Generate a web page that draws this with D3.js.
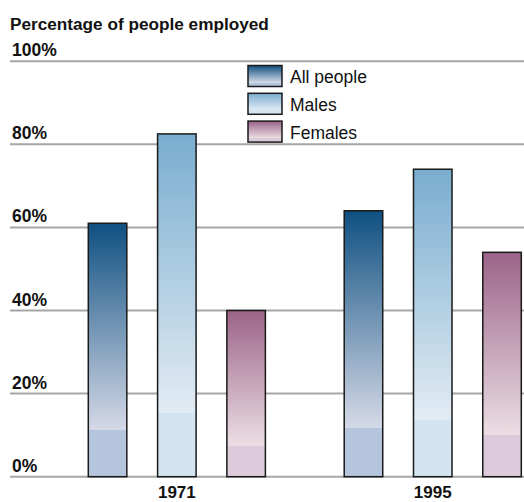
<!DOCTYPE html>
<html>
<head>
<meta charset="utf-8">
<script src="https://cdn.jsdelivr.net/npm/d3@7"></script>
<style>
  html, body { margin: 0; padding: 0; background: #fff; }
  svg { display: block; font-family: "Liberation Sans", Arial, Helvetica, sans-serif; }
</style>
</head>
<body>
<svg id="chart" width="524" height="502"></svg>
<script>
// Employment rate by group, 1971 and 1995
const years = ["1971", "1995"];
const groups = ["All people", "Males", "Females"];
const allPeople = [61, 64];
const males = [82.5, 74];
const females = [40, 54];
const yTicks = [0, 20, 40, 60, 80, 100];

// Gradient colours per group: top, lighter end, flat base band
const topColors = ["#0f5081", "#79adcf", "#9b6488"];
const fadeColors = ["#d5d9e7", "#e3ecf4", "#ecdee4"];
const baseColors = ["#b5c5dd", "#d1e4ef", "#dbcbdb"];

const values = [allPeople, males, females];
const bars = [];
years.forEach((yr, i) => {
  groups.forEach((g, j) => bars.push({ year: yr, group: g, gi: j, value: values[j][i] }));
});

const svg = d3.select("#chart");
const W = 524;

const y = d3.scaleLinear().domain([0, 100]).range([476.7, 61.2]);
const x0 = d3.scaleBand().domain(years).range([88.3, 521.3]).paddingInner(0.308).paddingOuter(0);
const x1 = d3.scaleBand().domain(groups).range([0, x0.bandwidth()]).paddingInner(0.444).paddingOuter(0);

// Gradients: smooth fade over the upper part, flat band at the bottom
const defs = svg.append("defs");
groups.forEach((g, j) => {
  const grad = defs.append("linearGradient")
    .attr("id", "grad" + j)
    .attr("x1", 0).attr("y1", 0).attr("x2", 0).attr("y2", 1);
  grad.append("stop").attr("offset", "0%").attr("stop-color", topColors[j]);
  grad.append("stop").attr("offset", "81.5%").attr("stop-color", fadeColors[j]);
  grad.append("stop").attr("offset", "81.5%").attr("stop-color", baseColors[j]);
  grad.append("stop").attr("offset", "100%").attr("stop-color", baseColors[j]);
});

// Horizontal gridlines with tick labels above them
const grid = svg.append("g").attr("class", "grid");
grid.selectAll("line")
  .data(yTicks)
  .join("line")
  .attr("x1", 10).attr("x2", W)
  .attr("y1", d => y(d)).attr("y2", d => y(d))
  .attr("stroke", "#a6a6a6")
  .attr("stroke-width", 2);

grid.selectAll("text")
  .data(yTicks)
  .join("text")
  .attr("x", 12)
  .attr("y", d => y(d) - 5)
  .attr("font-size", 17.5)
  .attr("font-weight", "bold")
  .attr("fill", "#111")
  .text(d => d + "%");

// Title
svg.append("text")
  .attr("x", 10).attr("y", 29.5)
  .attr("font-size", 17.2)
  .attr("font-weight", "bold")
  .attr("fill", "#111")
  .text("Percentage of people employed");

// Bars
svg.append("g").attr("class", "bars")
  .selectAll("rect")
  .data(bars)
  .join("rect")
  .attr("x", d => x0(d.year) + x1(d.group))
  .attr("width", x1.bandwidth())
  .attr("y", d => y(d.value))
  .attr("height", d => y(0) - y(d.value))
  .attr("fill", d => "url(#grad" + d.gi + ")")
  .attr("stroke", "#1a1a1a")
  .attr("stroke-width", 1.5);

// Year labels centred on each group
svg.append("g").attr("class", "x-labels")
  .selectAll("text")
  .data(years)
  .join("text")
  .attr("x", d => x0(d) + x0.bandwidth() / 2)
  .attr("y", 498)
  .attr("text-anchor", "middle")
  .attr("font-size", 17)
  .attr("font-weight", "bold")
  .attr("fill", "#111")
  .text(d => d);

// Legend
const legend = svg.append("g").attr("class", "legend")
  .attr("transform", "translate(248,65.5)");
const item = legend.selectAll("g")
  .data(groups)
  .join("g")
  .attr("transform", (d, i) => `translate(0,${i * 27.8})`);
item.append("rect")
  .attr("width", 34).attr("height", 21)
  .attr("fill", (d, i) => "url(#grad" + i + ")")
  .attr("stroke", "#1a1a1a")
  .attr("stroke-width", 1.5);
item.append("text")
  .attr("x", 42).attr("y", 17.5)
  .attr("font-size", 17.5)
  .attr("fill", "#111")
  .text(d => d);
</script>
</body>
</html>
